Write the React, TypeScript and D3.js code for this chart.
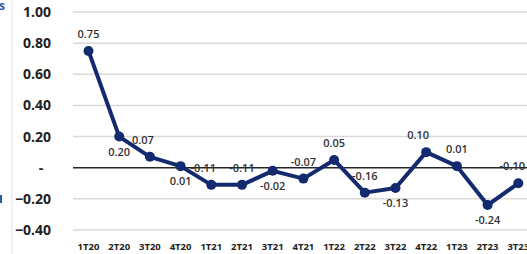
import React from "react";
import * as d3 from "d3";

const categories = ["1T20","2T20","3T20","4T20","1T21","2T21","3T21","4T21","1T22","2T22","3T22","4T22","1T23","2T23","3T23"];
const values = [0.75,0.20,0.07,0.01,-0.11,-0.11,-0.02,-0.07,0.05,-0.16,-0.13,0.10,0.01,-0.24,-0.10];
const valueLabels = ["0.75","0.20","0.07","0.01","-0.11","-0.11","-0.02","-0.07","0.05","-0.16","-0.13","0.10","0.01","-0.24","-0.10"];
const labelPlacement = ["above","below","above","below","above","above","below","above","above","above","below","above","above","below","above"];
const labelShift = [0,0,-7,0,-8,0,0,0,0,0,0,-8,0,0,-6];
const yTicks = [1.0,0.8,0.6,0.4,0.2,0,-0.2,-0.4];

const W = 527, H = 254;

export default function App() {
  const x = d3.scalePoint<string>().domain(categories).range([88.5, 88.5 + 14 * 30.7]);
  const y = d3.scaleLinear().domain([-0.4, 1.0]).range([230, 12]);
  const line = d3.line<number>().x((_, i) => x(categories[i]) as number).y(d => y(d));
  const font = "'Open Sans', 'DejaVu Sans', sans-serif";
  const navy = "#132a6e";
  return (
    <div style={{ position: "absolute", left: 0, top: 0 }}>
      <svg width={W} height={H} style={{ display: "block", background: "#fff" }}>
        <line x1={12} x2={12} y1={0} y2={H} stroke="#e3e3e3" strokeWidth={1} />
        <text x={-1} y={10} fontFamily={font} fontSize={12} fontWeight={700} fill="#1f5fa8">s</text>
        <rect x={0} y={195} width={2} height={8} fill="#1f5fa8" />
        {yTicks.filter(t => t !== 0).map(t => (
          <line key={"g" + t} x1={73} x2={W} y1={y(t)} y2={y(t)} stroke="#d9d9d9" strokeWidth={1.5} />
        ))}
        <line x1={73} x2={W} y1={y(0)} y2={y(0)} stroke="#262626" strokeWidth={1.5} />
        {yTicks.map(t => (
          <text key={"t" + t} x={t === 0 ? 41 : 51} y={y(t) + 5} textAnchor={t === 0 ? "middle" : "end"}
            fontFamily={font} fontSize={14} fontWeight={700} fill="#222">
            {t === 0 ? "-" : d3.format(".2f")(t)}
          </text>
        ))}
        {categories.map(c => (
          <text key={c} x={x(c)} y={250} textAnchor="middle" fontFamily={font} fontSize={9.5} fontWeight={700} fill="#222">{c}</text>
        ))}
        <path d={line(values) || ""} fill="none" stroke={navy} strokeWidth={4} strokeLinejoin="round" />
        {values.map((v, i) => (
          <circle key={"p" + i} cx={x(categories[i])} cy={y(v)} r={5} fill={navy} />
        ))}
        {values.map((v, i) => (
          <text key={"l" + i} x={(x(categories[i]) as number) + labelShift[i]}
            y={y(v) + (labelPlacement[i] === "above" ? -13 : 19)} textAnchor="middle"
            fontFamily={font} fontSize={11} fontWeight={600} fill="#333">{valueLabels[i]}</text>
        ))}
      </svg>
    </div>
  );
}
